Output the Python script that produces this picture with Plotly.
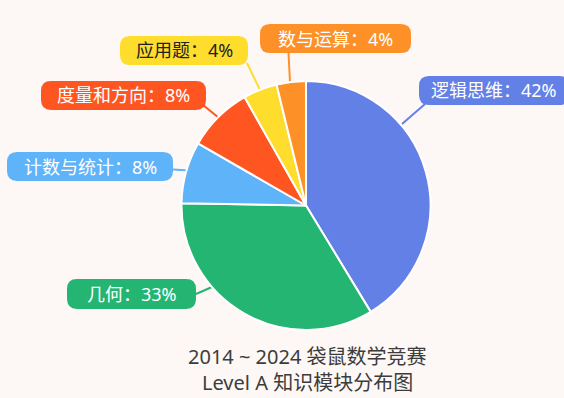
import plotly.graph_objects as go

# ---------------- data ----------------
categories = ["逻辑思维", "几何", "计数与统计", "度量和方向", "应用题", "数与运算"]
shares = [41.3, 34.0, 8.0, 8.5, 4.4, 3.8]      # slice sizes
label_pct = [42, 33, 8, 8, 4, 4]               # percentages printed on the labels
title_lines = ["2014 ~ 2024 袋鼠数学竞赛", "Level A 知识模块分布图"]

# ---------------- styles / layout ----------------
colors = ["#6380E6", "#24B573", "#5EB3F9", "#FF5621", "#FEDD2D", "#FD9127"]
text_colors = ["#FFFFFF", "#FFFFFF", "#FFFFFF", "#FFFFFF", "#222222", "#FFFFFF"]
BG = "#FDF8F5"
W, H = 564, 398
FONT = "Noto Sans, Noto Sans CJK SC, sans-serif"

# label boxes in pixels (x0, y0, x1, y1) and connector lines (xa, ya, xb, yb)
boxes = [
    (419, 76, 569, 105),
    (67, 279, 196, 309),
    (7, 152, 173, 181),
    (41, 81, 206, 110),
    (120, 36, 248, 65),
    (260, 24, 411, 53),
]
connectors = [
    (425, 104, 402, 124),
    (196, 294, 212, 287),
    (173, 169.5, 189, 170.5),
    (203, 105, 219, 118),
    (247, 63, 260, 90),
    (288.5, 53, 290, 82),
]


def px(x):
    return x / W


def py(y):
    return 1 - y / H


def rrect(x0, y0, x1, y1, r):
    pts = [
        ("M", [(x0 + r, y0)]), ("L", [(x1 - r, y0)]), ("Q", [(x1, y0), (x1, y0 + r)]),
        ("L", [(x1, y1 - r)]), ("Q", [(x1, y1), (x1 - r, y1)]),
        ("L", [(x0 + r, y1)]), ("Q", [(x0, y1), (x0, y1 - r)]),
        ("L", [(x0, y0 + r)]), ("Q", [(x0, y0), (x0 + r, y0)]),
    ]
    s = ""
    for cmd, ps in pts:
        s += cmd + " " + " ".join(f"{px(a):.5f},{py(b):.5f}" for a, b in ps) + " "
    return s + "Z"


fig = go.Figure()
fig.add_trace(go.Pie(
    labels=categories,
    values=shares,
    sort=False,
    direction="clockwise",
    rotation=0,
    marker=dict(colors=colors, line=dict(color="#FFFFFF", width=2)),
    textinfo="none",
    hoverinfo="skip",
    showlegend=False,
    domain=dict(x=[181.5 / W, 430.5 / W], y=[py(330), py(81)]),
))

shapes = []
annotations = []
for i, cat in enumerate(categories):
    x0, y0, x1, y1 = boxes[i]
    xa, ya, xb, yb = connectors[i]
    shapes.append(dict(type="line", xref="paper", yref="paper",
                       x0=px(xa), y0=py(ya), x1=px(xb), y1=py(yb),
                       line=dict(color=colors[i], width=2), layer="below"))
    shapes.append(dict(type="path", xref="paper", yref="paper",
                       path=rrect(x0, y0, x1, y1, 10),
                       fillcolor=colors[i], line=dict(width=0)))
    annotations.append(dict(
        xref="paper", yref="paper",
        x=px((x0 + x1) / 2), y=py((y0 + y1) / 2),
        text=f"{cat}：{label_pct[i]}%",
        showarrow=False, xanchor="center", yanchor="middle",
        font=dict(family=FONT, size=18, color=text_colors[i]),
    ))

for j, (line, yc) in enumerate(zip(title_lines, [356.5, 382.5])):
    annotations.append(dict(
        xref="paper", yref="paper", x=px(307), y=py(yc),
        text=line, showarrow=False, xanchor="center", yanchor="middle",
        font=dict(family=FONT, size=20, color="#3C3C3C"),
    ))

fig.update_layout(
    width=W, height=H,
    margin=dict(l=0, r=0, t=0, b=0),
    paper_bgcolor=BG,
    plot_bgcolor=BG,
    shapes=shapes,
    annotations=annotations,
    showlegend=False,
)

fig.write_html(
    "out.html",
    config={"displayModeBar": False},
    post_script=f"document.body.style.margin='0';document.body.style.overflow='hidden';"
                f"document.body.style.background='{BG}';",
)
